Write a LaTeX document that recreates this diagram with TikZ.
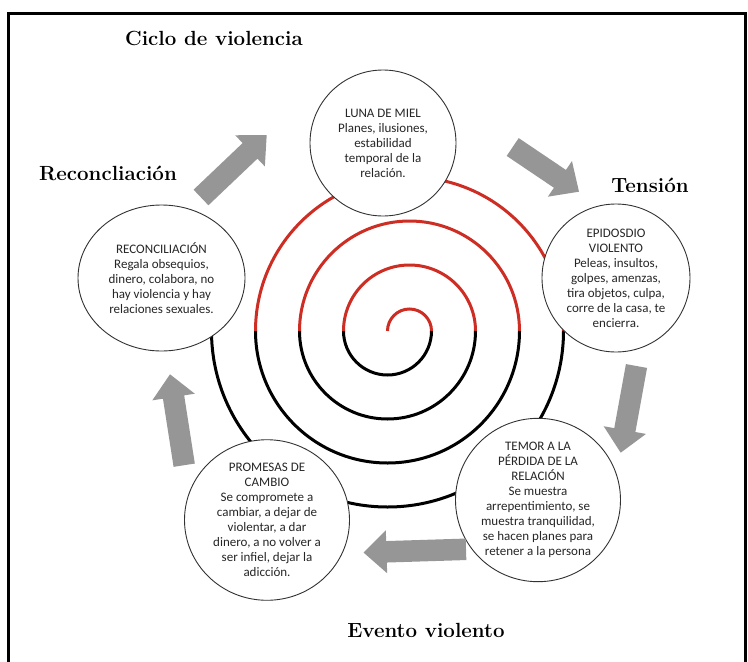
\documentclass[tikz,border=0pt]{standalone}
\usepackage{fontspec}
\newfontfamily\circfont{Carlito}
\usetikzlibrary{calc,shapes.geometric}
\definecolor{spred}{RGB}{205,45,35}
\definecolor{arrgray}{RGB}{150,150,150}
\definecolor{ringcol}{RGB}{50,50,50}
\newcommand\blockarr[2]{%
  \coordinate (hb) at ($(#2)!23pt!(#1)$);
  \fill[arrgray] ($(#1)!10.75pt!90:(#2)$) -- ($(hb)!10.75pt!-90:(#1)$) -- ($(hb)!21.5pt!-90:(#1)$) -- (#2) -- ($(hb)!21.5pt!90:(#1)$) -- ($(hb)!10.75pt!90:(#1)$) -- ($(#1)!10.75pt!-90:(#2)$) -- cycle;
}
\begin{document}
\begin{tikzpicture}[x=1pt,y=1pt,
  stage/.style={ellipse, draw=ringcol, line width=0.9pt, fill=white, inner sep=0pt, align=center,
    font=\circfont\fontsize{13}{15}\selectfont, text=black!85},
  head/.style={font=\bfseries\fontsize{20.5}{24}\selectfont, anchor=base},
  spr/.style={line width=3pt, spred},
  spb/.style={line width=3pt, black}]
\useasboundingbox (0,0) rectangle (748,-662);
\draw[line width=2.5pt] (8.3,-662) -- (8.3,-13.3) -- (745.5,-13.3) -- (745.5,-662);
% spiral
\draw[spr] (387.5,-331) arc[start angle=180,end angle=0,radius=22];
\draw[spb] (431.5,-331) arc[start angle=0,end angle=-180,radius=44];
\draw[spr] (343.5,-331) arc[start angle=180,end angle=0,radius=66];
\draw[spb] (475.5,-331) arc[start angle=0,end angle=-180,radius=88];
\draw[spr] (299.5,-331) arc[start angle=180,end angle=0,radius=110];
\draw[spb] (519.5,-331) arc[start angle=0,end angle=-180,radius=132];
\draw[spr] (255.5,-331) arc[start angle=180,end angle=0,radius=154];
\draw[spb] (563.5,-331) arc[start angle=0,end angle=-180,radius=176];
% stages
\node[stage, minimum width=146pt, minimum height=146pt] (luna) at (383,-143)
  {LUNA DE MIEL\\Planes, ilusiones,\\estabilidad\\temporal de la\\relación.};
\node[stage, minimum width=148pt, minimum height=148pt] (epi) at (616,-278)
  {EPIDOSDIO\\VIOLENTO\\Peleas, insultos,\\golpes, amenzas,\\tira objetos, culpa,\\corre de la casa, te\\encierra.};
\node[stage, minimum width=165pt, minimum height=145pt] (temor) at (538,-500)
  {TEMOR A LA\\PÉRDIDA DE LA\\RELACIÓN\\Se muestra\\arrepentimiento, se\\muestra tranquilidad,\\se hacen planes para\\retener a la persona};
\node[stage, minimum width=165pt, minimum height=145pt] (prom) at (267,-520)
  {PROMESAS DE\\CAMBIO\\Se compromete a\\cambiar, a dejar de\\violentar, a dar\\dinero, a no volver a\\ser infiel, dejar la\\adicción.};
\node[stage, minimum width=167pt, minimum height=146pt] (reco) at (161.5,-278)
  {RECONCILIACIÓN\\Regala obsequios,\\dinero, colabora, no\\hay violencia y hay\\relaciones sexuales.};
% arrows
\coordinate (t1) at (512.7,-147);  \coordinate (h1) at (579,-191.7);
\coordinate (t2) at (636.5,-366);  \coordinate (h2) at (620.7,-452.7);
\coordinate (t3) at (466,-549.3);  \coordinate (h3) at (363.5,-552.5);
\coordinate (t4) at (184.2,-465.2); \coordinate (h4) at (170,-374.3);
\coordinate (t5) at (201,-197.5);  \coordinate (h5) at (266.7,-135);
\blockarr{t1}{h1}
\blockarr{t2}{h2}
\blockarr{t3}{h3}
\blockarr{t4}{h4}
\blockarr{t5}{h5}
% labels
\node[head] (title) at (214,-45) {Ciclo de violencia};
\node[head] (lrec) at (108,-180) {Reconcliación};
\node[head] (lten) at (650,-192) {Tensión};
\node[head] (lev) at (426,-637) {Evento violento};
\end{tikzpicture}
\end{document}
